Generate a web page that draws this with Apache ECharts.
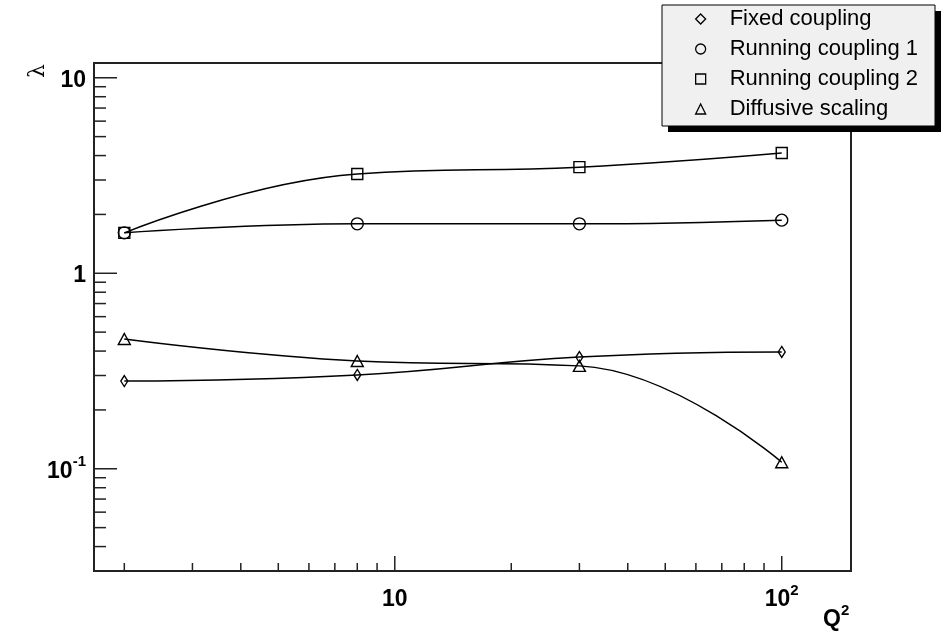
<!DOCTYPE html>
<html>
<head>
<meta charset="utf-8">
<title>lambda vs Q2</title>
<script src="https://cdn.jsdelivr.net/npm/echarts@6/dist/echarts.min.js"></script>
<style>
    html, body { margin: 0; padding: 0; background: #fff; }
    #chart { width: 945px; height: 635px; }
</style>
</head>
<body>
<div id="chart"></div>
<script>
    // values
    var q2Values = [2, 8, 30, 100];
    var fixedCoupling = [0.281, 0.302, 0.373, 0.396];
    var runningCoupling1 = [1.61, 1.79, 1.79, 1.87];
    var runningCoupling2 = [1.61, 3.22, 3.49, 4.12];
    var diffusiveScaling = [0.461, 0.356, 0.336, 0.108];
    var seriesNames = ['Fixed coupling', 'Running coupling 1', 'Running coupling 2', 'Diffusive scaling'];

    // tick positions (data units)
    var xMajorTicks = [10, 100];
    var xMinorTicks = [2, 3, 4, 5, 6, 7, 8, 9, 20, 30, 40, 50, 60, 70, 80, 90];
    var yMajorTicks = [0.1, 1, 10];
    var yMinorTicks = [0.04, 0.05, 0.06, 0.07, 0.08, 0.09, 0.2, 0.3, 0.4, 0.5, 0.6, 0.7, 0.8, 0.9, 2, 3, 4, 5, 6, 7, 8, 9];

    var X_MIN = 1.67, X_MAX = 151;
    var Y_MIN = 0.03, Y_MAX = 11.9;

    var chart = echarts.init(document.getElementById('chart'));

    function pairs(ys) {
        return q2Values.map(function (x, i) { return [x, ys[i]]; });
    }

    /* power-of-ten labels, ROOT style */
    function powLabel(v) {
        var e = Math.round(Math.log10(v));
        if (Math.abs(Math.log10(v) - e) > 1e-6) return '';
        if (e === 0) return '{b|1}';
        if (e === 1) return '{b|10}';
        return '{b|10}{sup|' + e + '}';
    }

    var labelRich = {
        b: { fontSize: 23, fontWeight: 'bold', fontFamily: 'Liberation Sans', color: '#000', lineHeight: 28, verticalAlign: 'bottom' },
        sup: { fontSize: 15, fontWeight: 'bold', fontFamily: 'Liberation Sans', color: '#000', lineHeight: 12, verticalAlign: 'top' }
    };

    var symbols = ['diamond', 'circle', 'rect', 'triangle'];
    var symbolSizes = [[7, 11], 12, 11, [12, 11]];
    var dataSets = [fixedCoupling, runningCoupling1, runningCoupling2, diffusiveScaling];

    var lineSeries = dataSets.map(function (ys, i) {
        return {
            name: seriesNames[i],
            type: 'line',
            smooth: 0.45,
            symbol: symbols[i],
            symbolSize: symbolSizes[i],
            data: pairs(ys),
            lineStyle: { color: '#000', width: 1.5 },
            itemStyle: { color: 'rgba(0,0,0,0)', borderColor: '#000', borderWidth: 1.4 },
            emphasis: { disabled: true },
            z: 3
        };
    });

    /* tick marks drawn through the axes' own scales */
    function tickSeries(values, isX, len) {
        return {
            type: 'custom',
            silent: true,
            clip: false,
            z: 4,
            data: values.map(function (v) { return isX ? [v, Y_MIN] : [X_MIN, v]; }),
            renderItem: function (params, api) {
                var p = api.coord([api.value(0), api.value(1)]);
                var shape = isX
                    ? { x1: p[0], y1: p[1], x2: p[0], y2: p[1] - len }
                    : { x1: p[0], y1: p[1], x2: p[0] + len, y2: p[1] };
                return { type: 'line', shape: shape, style: { stroke: '#222', lineWidth: 1.5 } };
            }
        };
    }

    var option = {
        animation: false,
        backgroundColor: '#fff',
        grid: {
            left: 94, right: 94, top: 63, bottom: 64,
            show: true,
            borderColor: '#222',
            borderWidth: 2,
            backgroundColor: 'transparent'
        },
        xAxis: {
            type: 'log',
            logBase: 10,
            min: X_MIN,
            max: X_MAX,
            axisLine: { show: false },
            axisTick: { show: false },
            splitLine: { show: false },
            axisLabel: {
                formatter: powLabel,
                showMinLabel: false,
                showMaxLabel: false,
                margin: 12,
                rich: labelRich
            }
        },
        yAxis: {
            type: 'log',
            logBase: 10,
            min: Y_MIN,
            max: Y_MAX,
            axisLine: { show: false },
            axisTick: { show: false },
            splitLine: { show: false },
            axisLabel: {
                formatter: powLabel,
                showMinLabel: false,
                showMaxLabel: false,
                margin: 8,
                rich: labelRich
            }
        },
        legend: {
            data: seriesNames.map(function (n, i) { return { name: n, icon: symbols[i] }; }),
            orient: 'vertical',
            left: 662,
            top: 5,
            z: 5,
            itemWidth: 10,
            itemHeight: 10,
            itemGap: 8,
            padding: [3, 17, 6, 33],
            selectedMode: false,
            backgroundColor: '#f0f0f0',
            borderColor: '#000',
            borderWidth: 1,
            borderRadius: 0,
            itemStyle: { color: 'rgba(0,0,0,0)', borderColor: '#000', borderWidth: 1.3 },
            textStyle: { fontSize: 22, lineHeight: 22, fontFamily: 'Liberation Sans', color: '#000', padding: [0, 0, 0, 19] }
        },
        graphic: [
            {
                // drop shadow behind the legend box
                type: 'rect',
                z: 1,
                shape: { x: 668, y: 11, width: 273, height: 121 },
                style: { fill: '#000' }
            },
            {
                type: 'text',
                x: 27, y: 78,
                rotation: Math.PI / 2,
                style: { text: 'λ', font: '22px "DejaVu Serif"', fill: '#000' }
            },
            {
                type: 'text',
                x: 823, y: 603,
                style: {
                    text: '{b|Q}{s|2}',
                    rich: {
                        b: { fontSize: 23, fontWeight: 'bold', fontFamily: 'Liberation Sans', fill: '#000', lineHeight: 28, verticalAlign: 'bottom' },
                        s: { fontSize: 15, fontWeight: 'bold', fontFamily: 'Liberation Sans', fill: '#000', lineHeight: 12, verticalAlign: 'top' }
                    }
                }
            }
        ],
        series: lineSeries.concat([
            tickSeries(xMajorTicks, true, 15),
            tickSeries(xMinorTicks, true, 8),
            tickSeries(yMajorTicks, false, 23),
            tickSeries(yMinorTicks, false, 12)
        ])
    };

    chart.setOption(option);
    window.addEventListener('resize', function () {
        chart.resize();
    });
</script>
</body>
</html>
